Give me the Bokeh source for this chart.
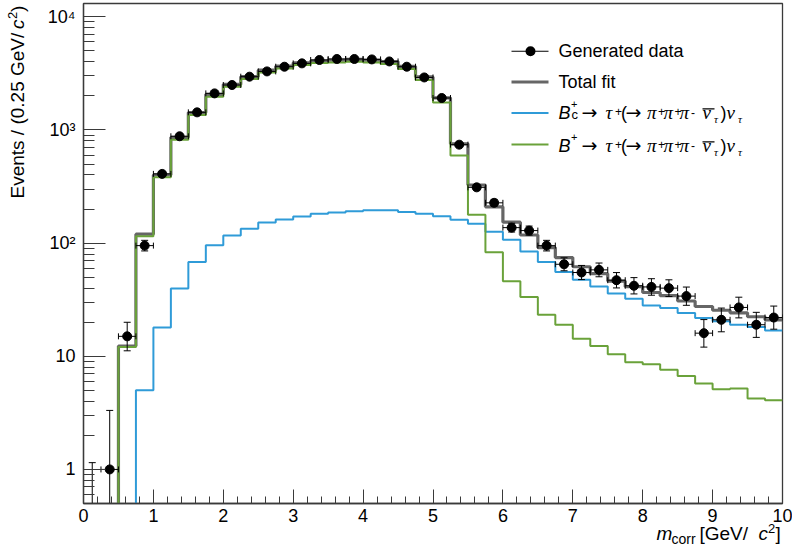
import math
from bokeh.plotting import figure
from bokeh.layouts import column
from bokeh.core.properties import value
from bokeh.models import (Range1d, FixedTicker, Label, BoxAnnotation,
                          CustomJSTickFormatter, ColumnDataSource)
from bokeh.embed import file_html
from bokeh.resources import INLINE

# ---------------- data ----------------
x_min, x_max, bin_width = 0.0, 10.0, 0.25
y_min, y_max = 0.5, 13100.0

data_counts = [0, 1, 15, 95, 409, 879, 1430, 2104, 2495, 2955, 3290, 3620,
               3875, 4150, 4235, 4235, 4200, 4030, 3620, 2910, 1915, 741, 311,
               227, 137, 129, 95, 65, 55, 58, 47, 42, 41, 40, 34, 16, 21, 27,
               19, 22]
bplus_fit = [0.01, 0.01, 12.1, 115, 382, 821, 1356, 1968, 2410, 2820, 3224,
             3497, 3750, 3900, 3950, 4010, 3950, 3830, 3450, 2760, 1750, 593,
             178, 83, 46, 33.4, 23.3, 19.0, 14.3, 12.3, 10.4, 8.85, 8.5, 7.6,
             6.7, 5.74, 5.1, 5.2, 4.24, 4.09]
bc_fit = [0.01, 0.01, 0.2, 5.0, 18.0, 39.7, 68, 95.5, 117, 134, 152, 162,
          172, 182, 186, 191, 195, 195, 188, 182, 173, 161, 148, 126, 107,
          84.5, 68, 55.5, 47.5, 41.4, 35.8, 32.3, 28.1, 26.7, 24.1, 21.8,
          20.4, 19.0, 18.1, 16.9]
zero_count_upper = 1.148   # upper Poisson error drawn for an empty bin

x_ticks = [0, 1, 2, 3, 4, 5, 6, 7, 8, 9, 10]
y_ticks = [1, 10, 100, 1000, 10000]
y_tick_labels = ["1", "10", "10\u00b2", "10\u00b3", "10\u2074"]
legend_labels = ["Generated data", "Total fit"]

# ---------------- derived ----------------
n_bins = len(data_counts)
edges = [x_min + i * bin_width for i in range(n_bins + 1)]
centers = [x_min + (i + 0.5) * bin_width for i in range(n_bins)]
total_fit = [a + b for a, b in zip(bplus_fit, bc_fit)]


def poisson_band(n):
    if n == 0:
        return 1e-3, zero_count_upper
    up = n + math.sqrt(n + 0.75) + 1.0
    lo = n * (1.0 - 1.0 / (9.0 * n) - 1.0 / (3.0 * math.sqrt(n))) ** 3
    return max(lo, 1e-3), up


bands = [poisson_band(n) for n in data_counts]
err_lo = [b[0] for b in bands]
err_hi = [b[1] for b in bands]

nz = [i for i, n in enumerate(data_counts) if n > 0]
pts = ColumnDataSource(dict(
    x=[centers[i] for i in nz],
    y=[data_counts[i] for i in nz],
    xl=[centers[i] - bin_width / 2 for i in nz],
    xr=[centers[i] + bin_width / 2 for i in nz],
))
vbars = ColumnDataSource(dict(x=centers, lo=err_lo, hi=err_hi))

# ---------------- figure ----------------
SANS = "Liberation Sans"
GREEK = "Liberation Serif"
ARROW = "DejaVu Sans"
BLUE = "#2f9bd8"
GREEN = "#6aa23a"
GREY = "#666666"
FRAME = "#3a3a3a"
W, H = 792, 553

p = figure(width=W, height=H, y_axis_type="log",
           x_range=Range1d(x_min, x_max), y_range=Range1d(y_min, y_max),
           output_backend="svg", toolbar_location=None,
           min_border_left=83, min_border_right=10, min_border_top=3,
           min_border_bottom=50)
p.grid.visible = False
p.outline_line_color = FRAME
p.outline_line_width = 1.3
p.background_fill_color = "white"
p.border_fill_color = "white"

xa = p.xaxis[0]
xa.ticker = FixedTicker(ticks=x_ticks,
                        minor_ticks=[x_min + 0.2 * i for i in range(51)])
ya = p.yaxis[0]
minor_y = [m * d for d in (0.1, 1, 10, 100, 1000) for m in range(2, 10)]
ya.ticker = FixedTicker(ticks=y_ticks, minor_ticks=minor_y)
ya.formatter = CustomJSTickFormatter(
    args=dict(vals=y_ticks, labs=y_tick_labels),
    code="""
        for (let i = 0; i < vals.length; i++) {
            if (Math.abs(tick - vals[i]) < 1e-6 * vals[i]) return labs[i];
        }
        return "";
    """)
for ax, tin, mtin in ((xa, 14, 7), (ya, 22, 11)):
    ax.major_tick_in = tin
    ax.major_tick_out = 0
    ax.minor_tick_in = mtin
    ax.minor_tick_out = 0
    ax.axis_line_color = FRAME
    ax.axis_line_width = 1.3
    ax.major_tick_line_color = FRAME
    ax.minor_tick_line_color = FRAME
    ax.major_label_text_font = SANS
    ax.major_label_text_font_size = "18px"
    ax.major_label_text_color = "black"
xa.major_label_standoff = 5
ya.major_label_standoff = 8

# fit components (steps)
p.step(edges, total_fit + [total_fit[-1]], mode="after", line_color=GREY,
       line_width=3.2)
p.step(edges, bc_fit + [bc_fit[-1]], mode="after", line_color=BLUE,
       line_width=2)
p.step(edges, bplus_fit + [bplus_fit[-1]], mode="after", line_color=GREEN,
       line_width=2)

# data with error bars
p.segment(x0="x", y0="lo", x1="x", y1="hi", source=vbars, line_color="black",
          line_width=1)
p.scatter(x="x", y="hi", source=vbars, marker="dash", size=7,
          line_color="black", line_width=1)
p.scatter(x="x", y="lo", source=vbars, marker="dash", size=7,
          line_color="black", line_width=1)
p.segment(x0="xl", y0="y", x1="xr", y1="y", source=pts, line_color="black",
          line_width=1)
p.scatter(x="xl", y="y", source=pts, marker="dash", angle=math.pi / 2,
          size=6, line_color="black", line_width=1)
p.scatter(x="xr", y="y", source=pts, marker="dash", angle=math.pi / 2,
          size=6, line_color="black", line_width=1)
p.scatter(x="x", y="y", source=pts, marker="circle", size=9,
          fill_color="black", line_color="black")

# ---------------- transparent overlay for the axis titles ----------------
# its frame covers the whole canvas: x = canvas px, y = H - canvas px
q = figure(width=W, height=H, x_range=Range1d(0, W), y_range=Range1d(0, H),
           output_backend="svg", toolbar_location=None, min_border=0,
           x_axis_location=None, y_axis_location=None)
q.grid.visible = False
q.outline_line_color = None
q.background_fill_alpha = 0
q.border_fill_alpha = 0
for fig in (p, q):
    if "frame_align" in fig.properties():
        fig.frame_align = False
try:
    q.margin = (-H, 0, 0, 0)
except ValueError:
    q.styles = {"margin-top": f"-{H}px"}


# ---------------- text helpers (canvas pixels, top-left origin) ----------------
def ctxt(fig, s, X, Yc, size=18, style="normal", font=SANS):
    """Text whose vertical centre (em-box middle) is at canvas Yc."""
    fig.add_layout(Label(x=X, y=Yc, x_units="canvas", y_units="canvas",
                         text=s, text_font=font, text_font_size=f"{size}px",
                         text_font_style=style, text_color="black",
                         text_align="left", text_baseline="middle"))


def txt(fig, s, X, base, size=18, style="normal", font=SANS):
    """Text whose baseline sits at canvas `base`."""
    ctxt(fig, s, X, base - 0.35 * size, size, style, font)


def box(fig, l, r, t, b, color, radius=0):
    fig.add_layout(BoxAnnotation(left=l, right=r, top=t, bottom=b,
                                 left_units="canvas", right_units="canvas",
                                 top_units="canvas", bottom_units="canvas",
                                 fill_color=color, fill_alpha=1.0,
                                 line_color=None, border_radius=int(radius),
                                 level="overlay"))


# legend (inside the frame)
LX0, LX1, TX = 511, 548, 558
rows = [50.7, 81.5, 112.5, 144]
box(p, LX0, LX1, rows[0] - 0.5, rows[0] + 0.5, "black")
box(p, 525, 535, rows[0] - 5, rows[0] + 5, "black", radius=5)
txt(p, legend_labels[0], TX, 57.2)
box(p, LX0, LX1, rows[1] - 1.5, rows[1] + 1.5, GREY)
txt(p, legend_labels[1], TX, 88.2)
box(p, LX0, LX1, rows[2] - 1, rows[2] + 1, BLUE)
box(p, LX0, LX1, rows[3] - 1, rows[3] + 1, GREEN)


def decay(base, with_c):
    g = dict(font=GREEK, style="italic")
    txt(p, "B", TX, base, style="italic")
    if with_c:
        txt(p, "c", 571, base, size=13)
    ctxt(p, "+", 570.5, base - 14.5, size=11)
    txt(p, "\u2192", 581, base - 0.5, size=19, font=ARROW)
    txt(p, "\u03c4", 605, base, size=19, **g)
    ctxt(p, "+", 614.5, base - 7.5, size=12)
    txt(p, "(", 620.5, base)
    txt(p, "\u2192", 625, base - 0.5, size=19, font=ARROW)
    txt(p, "\u03c0", 646.5, base, size=19, **g)
    ctxt(p, "+", 657.5, base - 7.2, size=12)
    txt(p, "\u03c0", 663, base, size=19, **g)
    ctxt(p, "+", 674, base - 7.2, size=12)
    txt(p, "\u03c0", 679, base, size=19, **g)
    ctxt(p, "-", 690.5, base - 6.8, size=12)
    txt(p, "\u03bd", 702, base, size=19, **g)
    box(p, 702, 714, base - 10.6, base - 9.3, "black")
    txt(p, "\u03c4", 713.5, base + 4.5, size=11, **g)
    txt(p, ")", 720, base)
    txt(p, "\u03bd", 726, base, size=19, **g)
    txt(p, "\u03c4", 737.5, base + 4.5, size=11, **g)


decay(118.3, True)
decay(151.3, False)

# x axis title (overlay, canvas pixels)
txt(q, "m", 656, 540, size=19, style="italic")
txt(q, "corr", 671, 543.5, size=14)
txt(q, "[GeV/", 699, 540, size=19)
txt(q, "c", 758, 540, size=19, style="italic")
txt(q, "2", 767.5, 533, size=13)
txt(q, "]", 775, 540, size=19)

# y axis title: rotated text glyphs on the overlay (reads bottom to top)
ytitle = ColumnDataSource(dict(
    x=[23.6 - 0.35 * 19, 23.6 - 0.35 * 19, 16.8 - 0.35 * 13, 23.6 - 0.35 * 19],
    y=[H - 198, H - 28.5, H - 18.5, H - 11.5],
    text=["Events / (0.25 GeV/", "c", "2", ")"],
    size=["19px", "19px", "13px", "19px"],
    style=["normal", "italic", "normal", "normal"],
))
q.text(x="x", y="y", text="text", source=ytitle, angle=math.pi / 2,
       text_font=value(SANS), text_font_size="size",
       text_font_style="style", text_color="black", text_align="left",
       text_baseline="middle")

open("out.html", "w").write(file_html(column(p, q), INLINE))
